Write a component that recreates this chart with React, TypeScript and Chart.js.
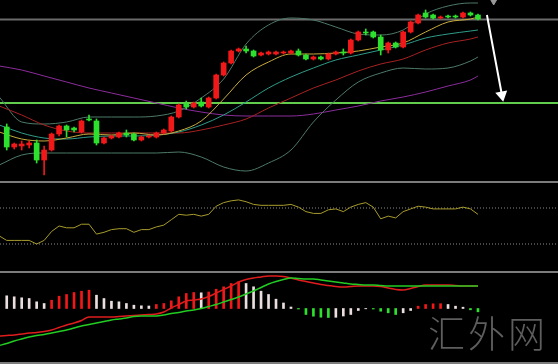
import React, { useEffect, useRef } from "react";
import { Chart, registerables } from "chart.js";

Chart.register(...registerables);

// ---------------- data ----------------
// candle index 0..63 (price units are arbitrary)
const candleIdx = [
  0, 1, 2, 3, 4, 5, 6, 7, 8, 9, 10, 11, 12, 13, 14, 15, 16, 17, 18, 19, 20, 21, 22, 23, 24, 25, 26, 27, 28, 29, 30, 31,
  32, 33, 34, 35, 36, 37, 38, 39, 40, 41, 42, 43, 44, 45, 46, 47, 48, 49, 50, 51, 52, 53, 54, 55, 56, 57, 58, 59, 60, 61, 62, 63,
];
const opens = [
  54, 34, 35, 36, 38, 21, 31, 47, 55, 53, 49, 62, 60, 38, 43, 44, 48, 47, 41, 44, 44, 48, 50, 64, 77, 74, 79, 74, 83, 106, 118, 130,
  132, 130, 126, 127, 127, 128, 128, 130, 126, 122, 124, 122, 127, 129, 128, 141, 149, 149, 144, 131, 138, 134, 149, 158, 168, 166, 163, 165, 165, 164, 168, 166,
];
const closes = [
  34, 37, 37, 38, 21, 31, 47, 55, 51, 51, 60, 61, 38, 43, 45, 48, 46, 41, 44, 45, 48, 51, 64, 76, 74, 78, 75, 83, 106, 118, 130, 132,
  130, 125, 128, 129, 129, 129, 130, 126, 122, 124, 122, 127, 129, 128, 141, 149, 148, 144, 131, 138, 134, 149, 159, 166, 164, 163, 164, 164, 164, 168, 166, 162,
];
const highs = [
  57, 38, 40, 40, 41, 35, 48, 56, 56, 54, 61, 66, 62, 44, 46, 49, 51, 48, 45, 46, 49, 52, 65, 77, 80, 79, 83, 84, 107, 119, 131, 133,
  135, 131, 129, 130, 130, 130, 131, 132, 127, 125, 125, 128, 130, 132, 142, 150, 152, 150, 146, 139, 139, 150, 160, 167, 171, 167, 165, 166, 166, 169, 169, 167,
];
const lows = [
  31, 32, 31, 33, 18, 6, 30, 45, 44, 49, 48, 60, 36, 37, 42, 43, 44, 40, 40, 43, 43, 47, 49, 63, 72, 73, 74, 73, 82, 105, 117, 129,
  128, 124, 125, 126, 126, 127, 127, 125, 121, 121, 121, 121, 126, 126, 127, 140, 146, 143, 126, 128, 133, 133, 148, 157, 163, 162, 162, 163, 163, 163, 165, 161,
];

// moving averages / bands sampled at these candle indices
const maIdx = [-1, 2, 5, 8, 11, 14, 17, 20, 23, 26, 29, 32, 35, 38, 41, 44, 47, 50, 53, 56, 59, 62, 63];
const bandUpper = [84, 59, 57, 59, 64, 64, 64, 65, 70, 83, 102, 137, 156, 163, 161, 154, 147, 146, 151, 167, 175, 178, 178];
const bandLower = [16, 26, 28, 28, 28, 28, 28, 28, 29, 24, 14, 10, 18, 31, 59, 81, 99, 108, 113, 112, 113, 120, 124];
const maRed = [75, 66, 56, 50, 48, 48, 48, 48, 48, 51, 56, 62, 73, 83, 93, 101, 110, 117, 122, 131, 138, 142, 144];
const maPurple = [115, 111, 105, 99, 93, 88, 83, 78, 73, 69, 66, 65, 65, 65, 67, 71, 75, 80, 84, 89, 95, 101, 105];
const maYellow = [49, 42, 40, 43, 47, 46, 48, 46, 50, 60, 82, 106, 119, 127, 127, 128, 130, 134, 138, 149, 159, 162, 164];
const maTeal = [56, 48, 43, 42, 44, 45, 45, 46, 49, 56, 66, 79, 93, 104, 113, 121, 126, 131, 136, 143, 147, 150, 151];

const resistanceLevel = 161.5;
const supportLevel = 78;
const arrowFrom = { x: 64.2, y: 166 };
const arrowTo = { x: 66.2, y: 86 };
const lastMarker = { x: 65.1, y: 180 };

// oscillator (index -1..63)
const oscIdx = [-1, ...candleIdx];
const rsi = [
  39, 34, 34, 34, 34, 30, 34, 44, 50, 48, 48, 52, 52, 41, 43, 46, 47, 47, 43, 46, 46, 49, 51, 57, 63, 62, 63, 61, 63, 72, 76,
  78, 79, 77, 74, 73, 73, 73, 73, 74, 71, 66, 64, 64, 68, 69, 66, 71, 74, 76, 71, 58, 61, 59, 66, 69, 72, 71, 69, 69, 69, 69, 71, 69, 63,
];
const rsiHigh = 70;
const rsiLow = 30;

// MACD
const macdHist = [
  1.27, 1.17, 1.07, 1.0, 0.67, 0.5, 0.83, 1.23, 1.4, 1.6, 1.73, 1.83, 1.33, 1.0, 0.73, 0.67, 0.5, 0.33, 0.27, 0.25,
  0.4, 0.5, 0.77, 1.17, 1.5, 1.6, 1.57, 1.65, 1.93, 2.17, 2.5, 2.67, 2.5, 2.17, 1.73, 1.4, 0.93, 0.55, 0.15, -0.05,
  -0.6, -0.77, -0.87, -0.9, -0.88, -0.75, -0.6, -0.2, -0.03, -0.05, -0.27, -0.43, -0.6, -0.43, -0.2, 0.23, 0.4, 0.47, 0.48, 0.4,
  0.23, 0.13, -0.13, -0.33,
];
const macdHistPrev = 1.4;
const macdDif = [
  -2.75, -2.7, -2.65, -2.55, -2.45, -2.4, -2.3, -2.15, -1.9, -1.65, -1.45, -1.2, -0.85, -0.85, -0.85, -0.85, -0.8, -0.75, -0.7, -0.65, -0.6,
  -0.55, -0.35, 0.05, 0.4, 0.75, 0.85, 0.95, 1.2, 1.55, 1.9, 2.25, 2.65, 2.9, 3.05, 3.15, 3.25, 3.25, 3.2, 3.05, 2.85,
  2.7, 2.55, 2.4, 2.3, 2.2, 2.15, 2.2, 2.25, 2.25, 2.25, 2.2, 2.05, 1.9, 1.85, 2.0, 2.2, 2.35, 2.35, 2.35, 2.35, 2.3, 2.25, 2.25, 2.25,
];
const macdDea = [
  -3.7, -3.5, -3.25, -3.05, -2.85, -2.7, -2.6, -2.45, -2.3, -2.15, -1.95, -1.75, -1.6, -1.45, -1.3, -1.15, -1.05, -0.95, -0.8, -0.75, -0.75,
  -0.75, -0.65, -0.5, -0.4, -0.25, -0.15, 0.0, 0.2, 0.4, 0.65, 0.9, 1.15, 1.45, 1.75, 2.1, 2.45, 2.7, 2.9, 3.05, 3.0,
  2.95, 2.95, 2.85, 2.75, 2.65, 2.55, 2.45, 2.4, 2.35, 2.35, 2.3, 2.25, 2.25, 2.25, 2.25, 2.25, 2.25, 2.25, 2.25, 2.25, 2.25, 2.25, 2.25, 2.25,
];

// ---------------- styling ----------------
const W = 558;
const X_MIN = -0.9;
const X_MAX = 73.7;
const UP = "#f01818";
const DOWN = "#2ee02e";
const HIST_WHITE = "#eadede";

function baseOptions(yMin: number, yMax: number): any {
  return {
    responsive: false,
    maintainAspectRatio: false,
    animation: false,
    devicePixelRatio: 1,
    events: [],
    layout: { padding: 0, autoPadding: false },
    plugins: { legend: { display: false }, tooltip: { enabled: false } },
    scales: {
      x: { type: "linear", min: X_MIN, max: X_MAX, display: false, offset: false },
      y: { type: "linear", min: yMin, max: yMax, display: false },
    },
  };
}

function lineDs(xs: number[], ys: number[], color: string, width: number, order: number, tension = 0.4): any {
  return {
    type: "line",
    data: xs.map((x, k) => ({ x, y: ys[k] })),
    borderColor: color,
    borderWidth: width,
    pointRadius: 0,
    fill: false,
    tension,
    cubicInterpolationMode: tension > 0 ? "monotone" : "default",
    order,
  };
}

function hLine(y: number, color: string, width: number, order: number, dash?: number[]): any {
  return {
    type: "line",
    data: [
      { x: X_MIN, y },
      { x: X_MAX, y },
    ],
    borderColor: color,
    borderWidth: width,
    borderDash: dash || [],
    pointRadius: 0,
    fill: false,
    order,
  };
}

export default function App() {
  const topRef = useRef<HTMLCanvasElement>(null);
  const midRef = useRef<HTMLCanvasElement>(null);
  const botRef = useRef<HTMLCanvasElement>(null);

  useEffect(() => {
    const candleColors = candleIdx.map((i) => (closes[i] >= opens[i] ? UP : DOWN));

    const top = new Chart(topRef.current as HTMLCanvasElement, {
      type: "bar",
      data: {
        datasets: [
          {
            type: "bar",
            data: candleIdx.map((i) => ({ x: i, y: [opens[i], closes[i]] })),
            backgroundColor: candleColors,
            barThickness: 5,
            minBarLength: 1,
            grouped: false,
            borderWidth: 0,
            order: 0,
          } as any,
          {
            type: "bar",
            data: candleIdx.map((i) => ({ x: i, y: [lows[i], highs[i]] })),
            backgroundColor: candleColors,
            barThickness: 1,
            grouped: false,
            borderWidth: 0,
            order: 1,
          } as any,
          lineDs(maIdx, maYellow, "#c8ac3c", 1, 2),
          lineDs(maIdx, maTeal, "#2f9c88", 1, 3),
          lineDs(maIdx, maRed, "#a82222", 1, 4),
          lineDs(maIdx, bandUpper, "#4d7a68", 1, 5),
          lineDs(maIdx, bandLower, "#4d7a68", 1, 5),
          lineDs(maIdx, maPurple, "#8c2c9c", 1, 6),
          hLine(resistanceLevel, "#6a6a6a", 2, 7),
          hLine(supportLevel, "#62cc4c", 2, 7),
          {
            type: "line",
            data: [arrowFrom, arrowTo],
            borderColor: "#ffffff",
            borderWidth: 2,
            pointRadius: [0, 5],
            pointStyle: "triangle",
            pointRotation: 169,
            pointBackgroundColor: "#ffffff",
            pointBorderColor: "#ffffff",
            fill: false,
            order: 0,
          } as any,
          {
            type: "line",
            data: [lastMarker],
            showLine: false,
            pointRadius: 4,
            pointStyle: "triangle",
            pointRotation: 180,
            pointBackgroundColor: "#9a9a9a",
            pointBorderColor: "#9a9a9a",
            order: 0,
          } as any,
        ],
      },
      options: baseOptions(0, 181),
    });

    const mid = new Chart(midRef.current as HTMLCanvasElement, {
      type: "line",
      data: {
        datasets: [
          lineDs(oscIdx, rsi, "#a89c2c", 1, 0, 0),
          hLine(rsiHigh, "#8c8c8c", 1, 1, [1, 2]),
          hLine(rsiLow, "#8c8c8c", 1, 1, [1, 2]),
        ],
      },
      options: baseOptions(0, 97.8),
    });

    const histColors = macdHist.map((v, k) => {
      const p = k > 0 ? macdHist[k - 1] : macdHistPrev;
      if (v >= 0) return v >= p ? UP : HIST_WHITE;
      return v <= p ? DOWN : HIST_WHITE;
    });

    const bot = new Chart(botRef.current as HTMLCanvasElement, {
      type: "bar",
      data: {
        datasets: [
          lineDs(oscIdx, macdDea, "#22cc22", 1.5, 0, 0.3),
          lineDs(oscIdx, macdDif, "#e01c1c", 1.5, 1, 0.3),
          {
            type: "bar",
            data: candleIdx.map((i) => ({ x: i, y: macdHist[i] })),
            backgroundColor: histColors,
            barThickness: 2,
            grouped: false,
            borderWidth: 0,
            order: 2,
          } as any,
        ],
      },
      options: baseOptions(-5.35, 3.55),
    });

    return () => {
      top.destroy();
      mid.destroy();
      bot.destroy();
    };
  }, []);

  const sep = (y: number) => (
    <div style={{ position: "absolute", left: 0, top: y, width: W, height: 2, background: "#7c7c7c" }} />
  );

  return (
    <div style={{ position: "fixed", left: 0, top: 0, width: W, height: 364, background: "#000", overflow: "hidden" }}>
      <canvas ref={topRef} width={W} height={181} style={{ position: "absolute", left: 0, top: 0, width: W, height: 181 }} />
      {sep(181)}
      <canvas ref={midRef} width={W} height={88} style={{ position: "absolute", left: 0, top: 183, width: W, height: 88 }} />
      {sep(271)}
      <canvas ref={botRef} width={W} height={89} style={{ position: "absolute", left: 0, top: 273, width: W, height: 89 }} />
      {sep(362)}
      <div
        style={{
          position: "absolute",
          left: 428,
          top: 310,
          fontSize: 37,
          lineHeight: "44px",
          letterSpacing: 3,
          color: "#5e5e5e",
          fontFamily: '"Noto Sans CJK SC", sans-serif',
          fontWeight: 300,
          whiteSpace: "nowrap",
        }}
      >
        汇外网
      </div>
    </div>
  );
}
